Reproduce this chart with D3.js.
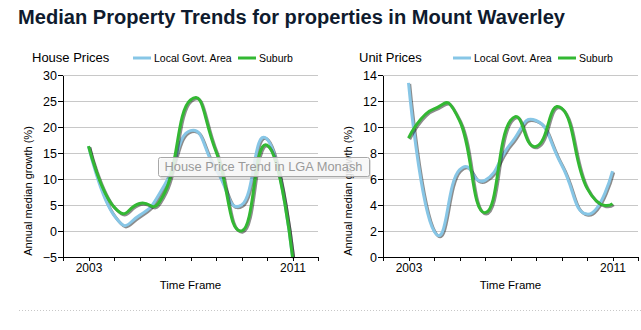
<!DOCTYPE html>
<html>
<head>
<meta charset="utf-8">
<title>Median Property Trends</title>
<script src="https://d3js.org/d3.v7.min.js"></script>
<style>
  body { margin: 0; background: #fff; font-family: "Liberation Sans", Arial, sans-serif; }
  svg text { font-family: "Liberation Sans", Arial, sans-serif; }
  .grid line { stroke: #c8c8c8; stroke-width: 1; }
  .axis path, .axis line { stroke: #000; shape-rendering: crispEdges; }
  .axis text { fill: #000; }
</style>
</head>
<body>
<svg id="chart" width="641" height="330"></svg>
<script>
// years on the x axis, one point per year
const years = [2003, 2004, 2005, 2006, 2007, 2008, 2009, 2010, 2011];
const seriesNames = ["Local Govt. Area", "Suburb"];

// annual median growth (%) - houses
const houseLga    = [16.3, 3.0, 3.0, 9.0, 19.3, 11.8, 5.0, 17.7, -5.0];
const houseSuburb = [16.3, 4.6, 5.3, 7.5, 25.2, 15.3, 0.0, 16.5, -5.0];

// annual median growth (%) - units
const unitLga    = [13.4, 2.0, 6.7, 5.9, 8.7, 10.5, 7.1, 3.3, 6.6];
const unitSuburb = [9.15, 11.4, 10.5, 3.4, 10.5, 8.5, 11.45, 5.3, 4.1];

const houseTicks = [-5, 0, 5, 10, 15, 20, 25, 30];
const unitTicks = [0, 2, 4, 6, 8, 10, 12, 14];
const yearLabels = [2003, 2011];

const colors = ["#87c6e6", "#33b833"];

const svg = d3.select("#chart");

// page title
svg.append("text")
  .attr("x", 18).attr("y", 24)
  .attr("font-size", 20).attr("font-weight", "bold")
  .attr("fill", "#0f1b2e")
  .attr("textLength", 547).attr("lengthAdjust", "spacingAndGlyphs")
  .text("Median Property Trends for properties in Mount Waverley");

// dotted separator under the charts
svg.append("line")
  .attr("x1", 19).attr("x2", 641).attr("y1", 310.5).attr("y2", 310.5)
  .attr("stroke", "#c8c8c8").attr("stroke-dasharray", "1,2");

function drawPanel(ox, title, titleX, lga, suburb, yTicks) {
  const g = svg.append("g").attr("transform", `translate(${ox},0)`);
  const left = 63, right = 318, top = 75, bottom = 257;

  const x = d3.scaleLinear().domain([2002, 2012]).range([left, right]);
  const y = d3.scaleLinear().domain([yTicks[0], yTicks[yTicks.length - 1]]).range([bottom, top]);

  // panel title
  g.append("text").attr("x", titleX).attr("y", 62)
    .attr("font-size", 13).text(title);

  // legend
  const legendX = [133, 238];
  seriesNames.forEach((name, i) => {
    g.append("line")
      .attr("x1", legendX[i]).attr("x2", legendX[i] + 18)
      .attr("y1", 58).attr("y2", 58)
      .attr("stroke", colors[i]).attr("stroke-width", 3);
    g.append("text")
      .attr("x", legendX[i] + 21).attr("y", 61.5)
      .attr("font-size", 10.5).text(name);
  });

  // horizontal grid lines
  g.append("g").attr("class", "grid")
    .selectAll("line").data(yTicks).enter().append("line")
    .attr("x1", left).attr("x2", right)
    .attr("y1", d => Math.round(y(d)) + 0.5).attr("y2", d => Math.round(y(d)) + 0.5);

  // lines with a soft drop shadow
  const line = d3.line()
    .x((d, i) => x(years[i]))
    .y(d => y(d))
    .curve(d3.curveCardinal.tension(-0.6));

  [lga, suburb].forEach((vals, i) => {
    g.append("path").datum(vals)
      .attr("d", line)
      .attr("transform", "translate(1.2,1.2)")
      .attr("fill", "none")
      .attr("stroke", "rgba(0,0,0,0.45)")
      .attr("stroke-width", 3);
    g.append("path").datum(vals)
      .attr("d", line)
      .attr("fill", "none")
      .attr("stroke", colors[i])
      .attr("stroke-width", 3)
      .attr("stroke-linejoin", "round");
  });

  // axes
  const yAxis = d3.axisLeft(y).tickValues(yTicks).tickSize(5).tickSizeOuter(0).tickPadding(1);
  const yg = g.append("g").attr("class", "axis")
    .attr("transform", `translate(${left},0)`).call(yAxis);
  yg.selectAll("text").attr("font-size", 12.5);

  const xAxis = d3.axisBottom(x)
    .tickValues(d3.range(2002, 2013))
    .tickSize(4).tickSizeOuter(0).tickPadding(2)
    .tickFormat(d => yearLabels.includes(d) ? d : "");
  const xg = g.append("g").attr("class", "axis")
    .attr("transform", `translate(0,${bottom})`).call(xAxis);
  xg.selectAll("text").attr("font-size", 12);

  // axis titles
  g.append("text")
    .attr("x", (left + right) / 2).attr("y", 289)
    .attr("text-anchor", "middle").attr("font-size", 11.5)
    .text("Time Frame");
  g.append("text")
    .attr("transform", "translate(32,191) rotate(-90)")
    .attr("text-anchor", "middle").attr("font-size", 11)
    .text("Annual median growth (%)");
}

drawPanel(0, "House Prices", 32, houseLga, houseSuburb, houseTicks);
drawPanel(320, "Unit Prices", 39, unitLga, unitSuburb, unitTicks);

// hover tooltip over the house chart
const tip = svg.append("g");
tip.append("rect")
  .attr("x", 160).attr("y", 159).attr("width", 211).attr("height", 20).attr("rx", 2)
  .attr("fill", "rgba(0,0,0,0.12)");
tip.append("rect")
  .attr("x", 158.5).attr("y", 157.5).attr("width", 211).attr("height", 19).attr("rx", 2)
  .attr("fill", "rgba(250,250,250,0.85)").attr("stroke", "#a8a8a8");
tip.append("text")
  .attr("x", 164.5).attr("y", 171)
  .attr("font-size", 12.5).attr("fill", "#9a9a9a")
  .attr("textLength", 198).attr("lengthAdjust", "spacingAndGlyphs")
  .text("House Price Trend in LGA Monash");
</script>
</body>
</html>
